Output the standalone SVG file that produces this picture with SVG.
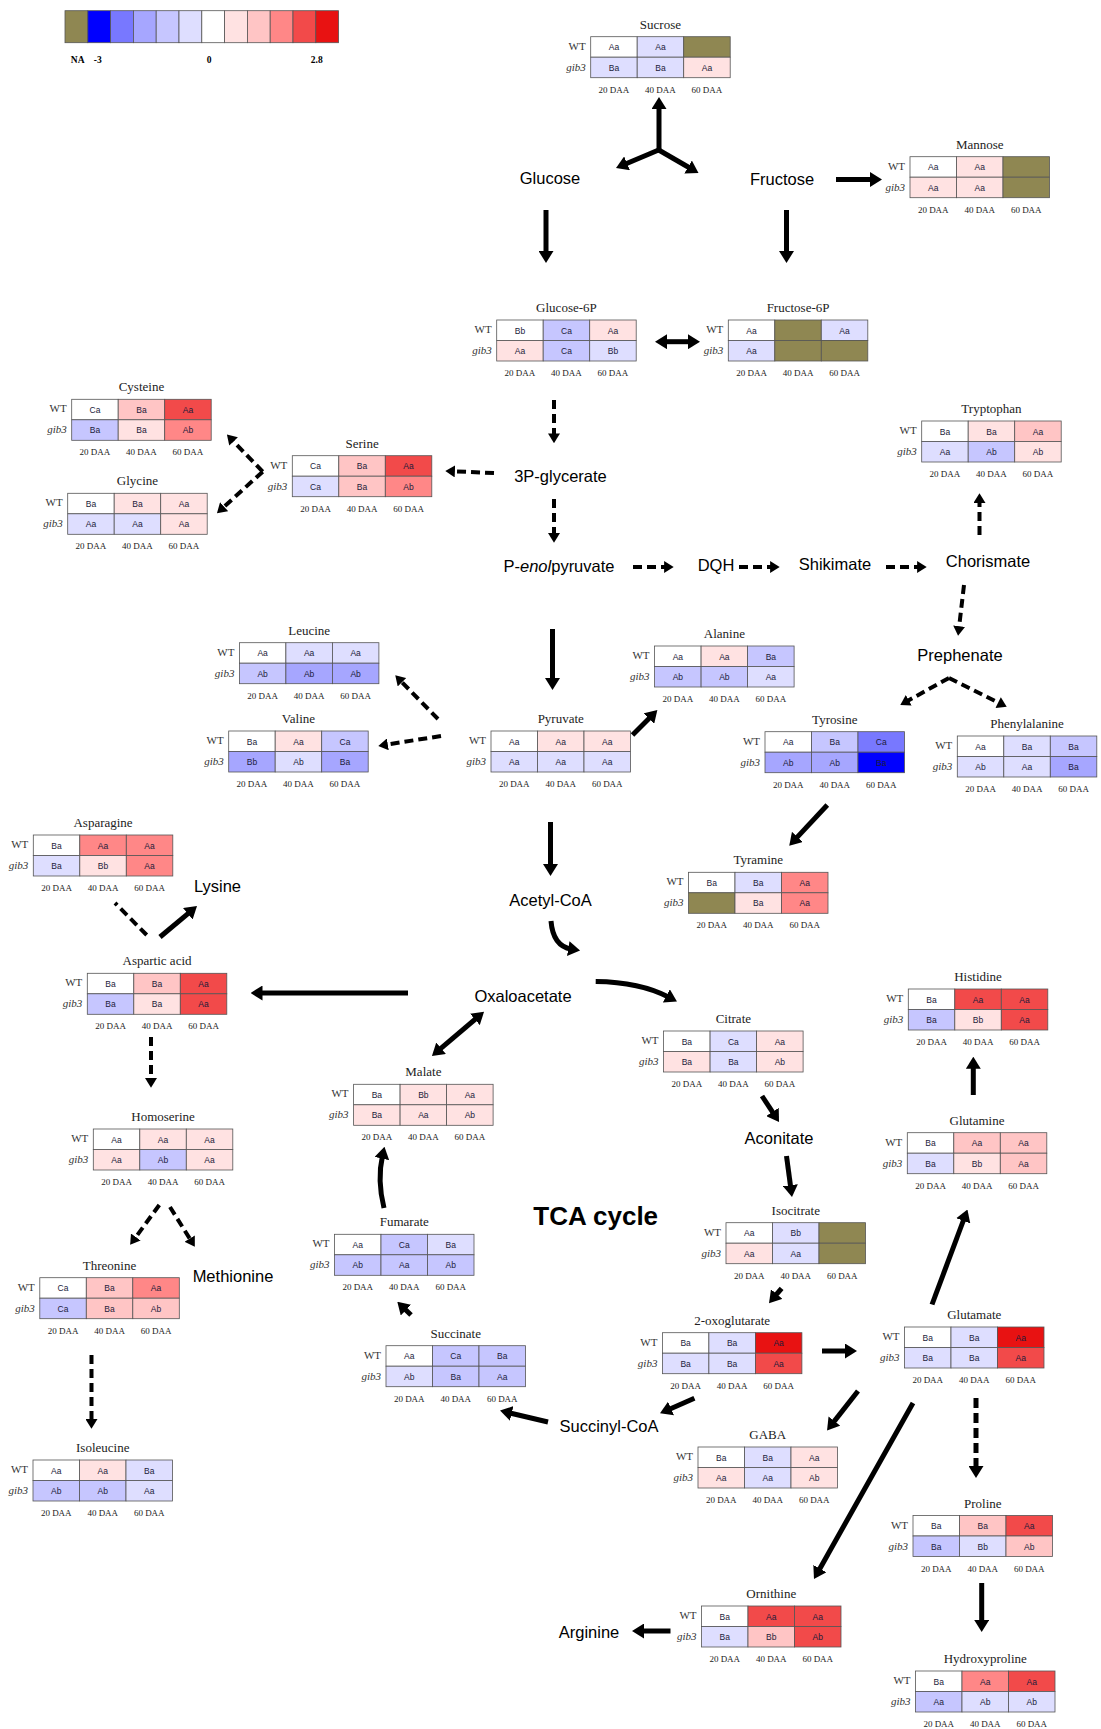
<svg xmlns="http://www.w3.org/2000/svg" width="1101" height="1729" viewBox="0 0 1101 1729">
<style>
.t{font:13px "Liberation Serif",serif;text-anchor:middle;fill:#222}
.rl{font:11px "Liberation Serif",serif;text-anchor:end;fill:#333}
.gi{font-style:italic}
.dl{font:9px "Liberation Serif",serif;text-anchor:middle;fill:#222}
.c{font:8.5px "Liberation Sans",sans-serif;text-anchor:middle;fill:#1c1c3a}
.lab{font:16.5px "Liberation Sans",sans-serif;text-anchor:middle;fill:#000}
.lg{font:bold 9.5px "Liberation Serif",serif;text-anchor:middle;fill:#000}
.k{stroke:#555;stroke-width:0.8}
.w{fill:#ffffff}.b1{fill:#dedeff}.b2{fill:#c6c6ff}.b3{fill:#a6a6ff}.b4{fill:#7878ff}.b5{fill:#0000ff}
.r1{fill:#ffe2e2}.r2{fill:#ffc5c5}.r3{fill:#ff8787}.r4{fill:#f24a4a}.r5{fill:#e81212}.na{fill:#8f8752}
.a{fill:none;stroke:#000;stroke-width:5;marker-end:url(#ah)}
.ad{fill:none;stroke:#000;stroke-width:4;stroke-dasharray:9 5;marker-end:url(#ahs)}
.dd{fill:none;stroke:#000;stroke-width:4;stroke-dasharray:9 5}
</style>
<defs>
<marker id="ah" viewBox="0 0 8 10" refX="2" refY="5" markerWidth="12" markerHeight="15" markerUnits="userSpaceOnUse" orient="auto-start-reverse"><path d="M0,0 L8,5 L0,10 z" fill="#000"/></marker>
<marker id="ahs" viewBox="0 0 8 10" refX="2" refY="5" markerWidth="10" markerHeight="12" markerUnits="userSpaceOnUse" orient="auto-start-reverse"><path d="M0,0 L8,5 L0,10 z" fill="#000"/></marker>
</defs>
<rect width="1101" height="1729" fill="#fff"/>

<g id="legend">
<rect class="k na" x="65" y="10.7" width="22.8" height="32"/>
<rect class="k b5" x="87.8" y="10.7" width="22.8" height="32"/>
<rect class="k b4" x="110.6" y="10.7" width="22.8" height="32"/>
<rect class="k b3" x="133.4" y="10.7" width="22.8" height="32"/>
<rect class="k b2" x="156.2" y="10.7" width="22.8" height="32"/>
<rect class="k b1" x="179" y="10.7" width="22.8" height="32"/>
<rect class="k w" x="201.8" y="10.7" width="22.8" height="32"/>
<rect class="k r1" x="224.6" y="10.7" width="22.8" height="32"/>
<rect class="k r2" x="247.4" y="10.7" width="22.8" height="32"/>
<rect class="k r3" x="270.2" y="10.7" width="22.8" height="32"/>
<rect class="k r4" x="293" y="10.7" width="22.8" height="32"/>
<rect class="k r5" x="315.8" y="10.7" width="22.8" height="32"/>
<text class="lg" x="77.7" y="63">NA</text><text class="lg" x="97.7" y="63">-3</text><text class="lg" x="209" y="63">0</text><text class="lg" x="316.7" y="63">2.8</text>
</g>

<g id="sucrose" transform="translate(590.7,36.7)">
<text class="t" x="69.75" y="-8">Sucrose</text><text class="rl" x="-5" y="13">WT</text><text class="rl gi" x="-5" y="34">gib3</text>
<rect class="k w" x="0" y="0" width="46.5" height="20.5"/><rect class="k b1" x="46.5" y="0" width="46.5" height="20.5"/><rect class="k na" x="93" y="0" width="46.5" height="20.5"/>
<rect class="k b1" x="0" y="20.5" width="46.5" height="20.5"/><rect class="k b1" x="46.5" y="20.5" width="46.5" height="20.5"/><rect class="k r1" x="93" y="20.5" width="46.5" height="20.5"/>
<text class="c" x="23.25" y="13.5">Aa</text><text class="c" x="69.75" y="13.5">Aa</text>
<text class="c" x="23.25" y="34">Ba</text><text class="c" x="69.75" y="34">Ba</text><text class="c" x="116.25" y="34">Aa</text>
<text class="dl" x="23.25" y="56">20 DAA</text><text class="dl" x="69.75" y="56">40 DAA</text><text class="dl" x="116.25" y="56">60 DAA</text>
</g>

<g id="mannose" transform="translate(910,156.7)">
<text class="t" x="69.75" y="-8">Mannose</text><text class="rl" x="-5" y="13">WT</text><text class="rl gi" x="-5" y="34">gib3</text>
<rect class="k w" x="0" y="0" width="46.5" height="20.5"/><rect class="k r1" x="46.5" y="0" width="46.5" height="20.5"/><rect class="k na" x="93" y="0" width="46.5" height="20.5"/>
<rect class="k r1" x="0" y="20.5" width="46.5" height="20.5"/><rect class="k r1" x="46.5" y="20.5" width="46.5" height="20.5"/><rect class="k na" x="93" y="20.5" width="46.5" height="20.5"/>
<text class="c" x="23.25" y="13.5">Aa</text><text class="c" x="69.75" y="13.5">Aa</text>
<text class="c" x="23.25" y="34">Aa</text><text class="c" x="69.75" y="34">Aa</text>
<text class="dl" x="23.25" y="56">20 DAA</text><text class="dl" x="69.75" y="56">40 DAA</text><text class="dl" x="116.25" y="56">60 DAA</text>
</g>

<g id="glucose6p" transform="translate(496.7,320)">
<text class="t" x="69.75" y="-8">Glucose-6P</text><text class="rl" x="-5" y="13">WT</text><text class="rl gi" x="-5" y="34">gib3</text>
<rect class="k w" x="0" y="0" width="46.5" height="20.5"/><rect class="k b2" x="46.5" y="0" width="46.5" height="20.5"/><rect class="k r1" x="93" y="0" width="46.5" height="20.5"/>
<rect class="k r1" x="0" y="20.5" width="46.5" height="20.5"/><rect class="k b2" x="46.5" y="20.5" width="46.5" height="20.5"/><rect class="k b1" x="93" y="20.5" width="46.5" height="20.5"/>
<text class="c" x="23.25" y="13.5">Bb</text><text class="c" x="69.75" y="13.5">Ca</text><text class="c" x="116.25" y="13.5">Aa</text>
<text class="c" x="23.25" y="34">Aa</text><text class="c" x="69.75" y="34">Ca</text><text class="c" x="116.25" y="34">Bb</text>
<text class="dl" x="23.25" y="56">20 DAA</text><text class="dl" x="69.75" y="56">40 DAA</text><text class="dl" x="116.25" y="56">60 DAA</text>
</g>

<g id="fructose6p" transform="translate(728.3,320)">
<text class="t" x="69.75" y="-8">Fructose-6P</text><text class="rl" x="-5" y="13">WT</text><text class="rl gi" x="-5" y="34">gib3</text>
<rect class="k w" x="0" y="0" width="46.5" height="20.5"/><rect class="k na" x="46.5" y="0" width="46.5" height="20.5"/><rect class="k b1" x="93" y="0" width="46.5" height="20.5"/>
<rect class="k b1" x="0" y="20.5" width="46.5" height="20.5"/><rect class="k na" x="46.5" y="20.5" width="46.5" height="20.5"/><rect class="k na" x="93" y="20.5" width="46.5" height="20.5"/>
<text class="c" x="23.25" y="13.5">Aa</text><text class="c" x="116.25" y="13.5">Aa</text>
<text class="c" x="23.25" y="34">Aa</text>
<text class="dl" x="23.25" y="56">20 DAA</text><text class="dl" x="69.75" y="56">40 DAA</text><text class="dl" x="116.25" y="56">60 DAA</text>
</g>

<g id="cysteine" transform="translate(71.7,399.3)">
<text class="t" x="69.75" y="-8">Cysteine</text><text class="rl" x="-5" y="13">WT</text><text class="rl gi" x="-5" y="34">gib3</text>
<rect class="k w" x="0" y="0" width="46.5" height="20.5"/><rect class="k r2" x="46.5" y="0" width="46.5" height="20.5"/><rect class="k r4" x="93" y="0" width="46.5" height="20.5"/>
<rect class="k b2" x="0" y="20.5" width="46.5" height="20.5"/><rect class="k r1" x="46.5" y="20.5" width="46.5" height="20.5"/><rect class="k r3" x="93" y="20.5" width="46.5" height="20.5"/>
<text class="c" x="23.25" y="13.5">Ca</text><text class="c" x="69.75" y="13.5">Ba</text><text class="c" x="116.25" y="13.5">Aa</text>
<text class="c" x="23.25" y="34">Ba</text><text class="c" x="69.75" y="34">Ba</text><text class="c" x="116.25" y="34">Ab</text>
<text class="dl" x="23.25" y="56">20 DAA</text><text class="dl" x="69.75" y="56">40 DAA</text><text class="dl" x="116.25" y="56">60 DAA</text>
</g>

<g id="glycine" transform="translate(67.7,493.3)">
<text class="t" x="69.75" y="-8">Glycine</text><text class="rl" x="-5" y="13">WT</text><text class="rl gi" x="-5" y="34">gib3</text>
<rect class="k w" x="0" y="0" width="46.5" height="20.5"/><rect class="k r1" x="46.5" y="0" width="46.5" height="20.5"/><rect class="k r1" x="93" y="0" width="46.5" height="20.5"/>
<rect class="k b1" x="0" y="20.5" width="46.5" height="20.5"/><rect class="k b1" x="46.5" y="20.5" width="46.5" height="20.5"/><rect class="k r1" x="93" y="20.5" width="46.5" height="20.5"/>
<text class="c" x="23.25" y="13.5">Ba</text><text class="c" x="69.75" y="13.5">Ba</text><text class="c" x="116.25" y="13.5">Aa</text>
<text class="c" x="23.25" y="34">Aa</text><text class="c" x="69.75" y="34">Aa</text><text class="c" x="116.25" y="34">Aa</text>
<text class="dl" x="23.25" y="56">20 DAA</text><text class="dl" x="69.75" y="56">40 DAA</text><text class="dl" x="116.25" y="56">60 DAA</text>
</g>

<g id="serine" transform="translate(292.3,455.7)">
<text class="t" x="69.75" y="-8">Serine</text><text class="rl" x="-5" y="13">WT</text><text class="rl gi" x="-5" y="34">gib3</text>
<rect class="k w" x="0" y="0" width="46.5" height="20.5"/><rect class="k r2" x="46.5" y="0" width="46.5" height="20.5"/><rect class="k r4" x="93" y="0" width="46.5" height="20.5"/>
<rect class="k b1" x="0" y="20.5" width="46.5" height="20.5"/><rect class="k r2" x="46.5" y="20.5" width="46.5" height="20.5"/><rect class="k r3" x="93" y="20.5" width="46.5" height="20.5"/>
<text class="c" x="23.25" y="13.5">Ca</text><text class="c" x="69.75" y="13.5">Ba</text><text class="c" x="116.25" y="13.5">Aa</text>
<text class="c" x="23.25" y="34">Ca</text><text class="c" x="69.75" y="34">Ba</text><text class="c" x="116.25" y="34">Ab</text>
<text class="dl" x="23.25" y="56">20 DAA</text><text class="dl" x="69.75" y="56">40 DAA</text><text class="dl" x="116.25" y="56">60 DAA</text>
</g>

<g id="tryptophan" transform="translate(921.7,421)">
<text class="t" x="69.75" y="-8">Tryptophan</text><text class="rl" x="-5" y="13">WT</text><text class="rl gi" x="-5" y="34">gib3</text>
<rect class="k w" x="0" y="0" width="46.5" height="20.5"/><rect class="k r1" x="46.5" y="0" width="46.5" height="20.5"/><rect class="k r2" x="93" y="0" width="46.5" height="20.5"/>
<rect class="k b1" x="0" y="20.5" width="46.5" height="20.5"/><rect class="k b2" x="46.5" y="20.5" width="46.5" height="20.5"/><rect class="k r1" x="93" y="20.5" width="46.5" height="20.5"/>
<text class="c" x="23.25" y="13.5">Ba</text><text class="c" x="69.75" y="13.5">Ba</text><text class="c" x="116.25" y="13.5">Aa</text>
<text class="c" x="23.25" y="34">Aa</text><text class="c" x="69.75" y="34">Ab</text><text class="c" x="116.25" y="34">Ab</text>
<text class="dl" x="23.25" y="56">20 DAA</text><text class="dl" x="69.75" y="56">40 DAA</text><text class="dl" x="116.25" y="56">60 DAA</text>
</g>

<g id="leucine" transform="translate(239.4,642.7)">
<text class="t" x="69.75" y="-8">Leucine</text><text class="rl" x="-5" y="13">WT</text><text class="rl gi" x="-5" y="34">gib3</text>
<rect class="k w" x="0" y="0" width="46.5" height="20.5"/><rect class="k b1" x="46.5" y="0" width="46.5" height="20.5"/><rect class="k b1" x="93" y="0" width="46.5" height="20.5"/>
<rect class="k b2" x="0" y="20.5" width="46.5" height="20.5"/><rect class="k b3" x="46.5" y="20.5" width="46.5" height="20.5"/><rect class="k b3" x="93" y="20.5" width="46.5" height="20.5"/>
<text class="c" x="23.25" y="13.5">Aa</text><text class="c" x="69.75" y="13.5">Aa</text><text class="c" x="116.25" y="13.5">Aa</text>
<text class="c" x="23.25" y="34">Ab</text><text class="c" x="69.75" y="34">Ab</text><text class="c" x="116.25" y="34">Ab</text>
<text class="dl" x="23.25" y="56">20 DAA</text><text class="dl" x="69.75" y="56">40 DAA</text><text class="dl" x="116.25" y="56">60 DAA</text>
</g>

<g id="valine" transform="translate(228.7,731)">
<text class="t" x="69.75" y="-8">Valine</text><text class="rl" x="-5" y="13">WT</text><text class="rl gi" x="-5" y="34">gib3</text>
<rect class="k w" x="0" y="0" width="46.5" height="20.5"/><rect class="k r1" x="46.5" y="0" width="46.5" height="20.5"/><rect class="k b2" x="93" y="0" width="46.5" height="20.5"/>
<rect class="k b3" x="0" y="20.5" width="46.5" height="20.5"/><rect class="k b1" x="46.5" y="20.5" width="46.5" height="20.5"/><rect class="k b3" x="93" y="20.5" width="46.5" height="20.5"/>
<text class="c" x="23.25" y="13.5">Ba</text><text class="c" x="69.75" y="13.5">Aa</text><text class="c" x="116.25" y="13.5">Ca</text>
<text class="c" x="23.25" y="34">Bb</text><text class="c" x="69.75" y="34">Ab</text><text class="c" x="116.25" y="34">Ba</text>
<text class="dl" x="23.25" y="56">20 DAA</text><text class="dl" x="69.75" y="56">40 DAA</text><text class="dl" x="116.25" y="56">60 DAA</text>
</g>

<g id="pyruvate" transform="translate(491,731)">
<text class="t" x="69.75" y="-8">Pyruvate</text><text class="rl" x="-5" y="13">WT</text><text class="rl gi" x="-5" y="34">gib3</text>
<rect class="k w" x="0" y="0" width="46.5" height="20.5"/><rect class="k r1" x="46.5" y="0" width="46.5" height="20.5"/><rect class="k r1" x="93" y="0" width="46.5" height="20.5"/>
<rect class="k b1" x="0" y="20.5" width="46.5" height="20.5"/><rect class="k b1" x="46.5" y="20.5" width="46.5" height="20.5"/><rect class="k b1" x="93" y="20.5" width="46.5" height="20.5"/>
<text class="c" x="23.25" y="13.5">Aa</text><text class="c" x="69.75" y="13.5">Aa</text><text class="c" x="116.25" y="13.5">Aa</text>
<text class="c" x="23.25" y="34">Aa</text><text class="c" x="69.75" y="34">Aa</text><text class="c" x="116.25" y="34">Aa</text>
<text class="dl" x="23.25" y="56">20 DAA</text><text class="dl" x="69.75" y="56">40 DAA</text><text class="dl" x="116.25" y="56">60 DAA</text>
</g>

<g id="alanine" transform="translate(654.6,646)">
<text class="t" x="69.75" y="-8">Alanine</text><text class="rl" x="-5" y="13">WT</text><text class="rl gi" x="-5" y="34">gib3</text>
<rect class="k w" x="0" y="0" width="46.5" height="20.5"/><rect class="k r1" x="46.5" y="0" width="46.5" height="20.5"/><rect class="k b2" x="93" y="0" width="46.5" height="20.5"/>
<rect class="k b2" x="0" y="20.5" width="46.5" height="20.5"/><rect class="k b2" x="46.5" y="20.5" width="46.5" height="20.5"/><rect class="k b1" x="93" y="20.5" width="46.5" height="20.5"/>
<text class="c" x="23.25" y="13.5">Aa</text><text class="c" x="69.75" y="13.5">Aa</text><text class="c" x="116.25" y="13.5">Ba</text>
<text class="c" x="23.25" y="34">Ab</text><text class="c" x="69.75" y="34">Ab</text><text class="c" x="116.25" y="34">Aa</text>
<text class="dl" x="23.25" y="56">20 DAA</text><text class="dl" x="69.75" y="56">40 DAA</text><text class="dl" x="116.25" y="56">60 DAA</text>
</g>

<g id="tyrosine" transform="translate(765,731.7)">
<text class="t" x="69.75" y="-8">Tyrosine</text><text class="rl" x="-5" y="13">WT</text><text class="rl gi" x="-5" y="34">gib3</text>
<rect class="k w" x="0" y="0" width="46.5" height="20.5"/><rect class="k b2" x="46.5" y="0" width="46.5" height="20.5"/><rect class="k b4" x="93" y="0" width="46.5" height="20.5"/>
<rect class="k b3" x="0" y="20.5" width="46.5" height="20.5"/><rect class="k b3" x="46.5" y="20.5" width="46.5" height="20.5"/><rect class="k b5" x="93" y="20.5" width="46.5" height="20.5"/>
<text class="c" x="23.25" y="13.5">Aa</text><text class="c" x="69.75" y="13.5">Ba</text><text class="c" x="116.25" y="13.5">Ca</text>
<text class="c" x="23.25" y="34">Ab</text><text class="c" x="69.75" y="34">Ab</text><text class="c" x="116.25" y="34">Ba</text>
<text class="dl" x="23.25" y="56">20 DAA</text><text class="dl" x="69.75" y="56">40 DAA</text><text class="dl" x="116.25" y="56">60 DAA</text>
</g>

<g id="phenylalanine" transform="translate(957.3,736)">
<text class="t" x="69.75" y="-8">Phenylalanine</text><text class="rl" x="-5" y="13">WT</text><text class="rl gi" x="-5" y="34">gib3</text>
<rect class="k w" x="0" y="0" width="46.5" height="20.5"/><rect class="k b1" x="46.5" y="0" width="46.5" height="20.5"/><rect class="k b2" x="93" y="0" width="46.5" height="20.5"/>
<rect class="k b1" x="0" y="20.5" width="46.5" height="20.5"/><rect class="k b1" x="46.5" y="20.5" width="46.5" height="20.5"/><rect class="k b3" x="93" y="20.5" width="46.5" height="20.5"/>
<text class="c" x="23.25" y="13.5">Aa</text><text class="c" x="69.75" y="13.5">Ba</text><text class="c" x="116.25" y="13.5">Ba</text>
<text class="c" x="23.25" y="34">Ab</text><text class="c" x="69.75" y="34">Aa</text><text class="c" x="116.25" y="34">Ba</text>
<text class="dl" x="23.25" y="56">20 DAA</text><text class="dl" x="69.75" y="56">40 DAA</text><text class="dl" x="116.25" y="56">60 DAA</text>
</g>

<g id="tyramine" transform="translate(688.5,872.3)">
<text class="t" x="69.75" y="-8">Tyramine</text><text class="rl" x="-5" y="13">WT</text><text class="rl gi" x="-5" y="34">gib3</text>
<rect class="k w" x="0" y="0" width="46.5" height="20.5"/><rect class="k b1" x="46.5" y="0" width="46.5" height="20.5"/><rect class="k r3" x="93" y="0" width="46.5" height="20.5"/>
<rect class="k na" x="0" y="20.5" width="46.5" height="20.5"/><rect class="k r1" x="46.5" y="20.5" width="46.5" height="20.5"/><rect class="k r3" x="93" y="20.5" width="46.5" height="20.5"/>
<text class="c" x="23.25" y="13.5">Ba</text><text class="c" x="69.75" y="13.5">Ba</text><text class="c" x="116.25" y="13.5">Aa</text>
<text class="c" x="69.75" y="34">Ba</text><text class="c" x="116.25" y="34">Aa</text>
<text class="dl" x="23.25" y="56">20 DAA</text><text class="dl" x="69.75" y="56">40 DAA</text><text class="dl" x="116.25" y="56">60 DAA</text>
</g>

<g id="asparagine" transform="translate(33.3,835)">
<text class="t" x="69.75" y="-8">Asparagine</text><text class="rl" x="-5" y="13">WT</text><text class="rl gi" x="-5" y="34">gib3</text>
<rect class="k w" x="0" y="0" width="46.5" height="20.5"/><rect class="k r3" x="46.5" y="0" width="46.5" height="20.5"/><rect class="k r3" x="93" y="0" width="46.5" height="20.5"/>
<rect class="k b1" x="0" y="20.5" width="46.5" height="20.5"/><rect class="k r1" x="46.5" y="20.5" width="46.5" height="20.5"/><rect class="k r3" x="93" y="20.5" width="46.5" height="20.5"/>
<text class="c" x="23.25" y="13.5">Ba</text><text class="c" x="69.75" y="13.5">Aa</text><text class="c" x="116.25" y="13.5">Aa</text>
<text class="c" x="23.25" y="34">Ba</text><text class="c" x="69.75" y="34">Bb</text><text class="c" x="116.25" y="34">Aa</text>
<text class="dl" x="23.25" y="56">20 DAA</text><text class="dl" x="69.75" y="56">40 DAA</text><text class="dl" x="116.25" y="56">60 DAA</text>
</g>

<g id="aspartic-acid" transform="translate(87.3,973.3)">
<text class="t" x="69.75" y="-8">Aspartic acid</text><text class="rl" x="-5" y="13">WT</text><text class="rl gi" x="-5" y="34">gib3</text>
<rect class="k w" x="0" y="0" width="46.5" height="20.5"/><rect class="k r2" x="46.5" y="0" width="46.5" height="20.5"/><rect class="k r4" x="93" y="0" width="46.5" height="20.5"/>
<rect class="k b2" x="0" y="20.5" width="46.5" height="20.5"/><rect class="k r1" x="46.5" y="20.5" width="46.5" height="20.5"/><rect class="k r4" x="93" y="20.5" width="46.5" height="20.5"/>
<text class="c" x="23.25" y="13.5">Ba</text><text class="c" x="69.75" y="13.5">Ba</text><text class="c" x="116.25" y="13.5">Aa</text>
<text class="c" x="23.25" y="34">Ba</text><text class="c" x="69.75" y="34">Ba</text><text class="c" x="116.25" y="34">Aa</text>
<text class="dl" x="23.25" y="56">20 DAA</text><text class="dl" x="69.75" y="56">40 DAA</text><text class="dl" x="116.25" y="56">60 DAA</text>
</g>

<g id="citrate" transform="translate(663.6,1031)">
<text class="t" x="69.75" y="-8">Citrate</text><text class="rl" x="-5" y="13">WT</text><text class="rl gi" x="-5" y="34">gib3</text>
<rect class="k w" x="0" y="0" width="46.5" height="20.5"/><rect class="k b1" x="46.5" y="0" width="46.5" height="20.5"/><rect class="k r1" x="93" y="0" width="46.5" height="20.5"/>
<rect class="k r1" x="0" y="20.5" width="46.5" height="20.5"/><rect class="k b1" x="46.5" y="20.5" width="46.5" height="20.5"/><rect class="k r1" x="93" y="20.5" width="46.5" height="20.5"/>
<text class="c" x="23.25" y="13.5">Ba</text><text class="c" x="69.75" y="13.5">Ca</text><text class="c" x="116.25" y="13.5">Aa</text>
<text class="c" x="23.25" y="34">Ba</text><text class="c" x="69.75" y="34">Ba</text><text class="c" x="116.25" y="34">Ab</text>
<text class="dl" x="23.25" y="56">20 DAA</text><text class="dl" x="69.75" y="56">40 DAA</text><text class="dl" x="116.25" y="56">60 DAA</text>
</g>

<g id="malate" transform="translate(353.6,1084.3)">
<text class="t" x="69.75" y="-8">Malate</text><text class="rl" x="-5" y="13">WT</text><text class="rl gi" x="-5" y="34">gib3</text>
<rect class="k w" x="0" y="0" width="46.5" height="20.5"/><rect class="k r1" x="46.5" y="0" width="46.5" height="20.5"/><rect class="k r1" x="93" y="0" width="46.5" height="20.5"/>
<rect class="k r1" x="0" y="20.5" width="46.5" height="20.5"/><rect class="k r1" x="46.5" y="20.5" width="46.5" height="20.5"/><rect class="k r1" x="93" y="20.5" width="46.5" height="20.5"/>
<text class="c" x="23.25" y="13.5">Ba</text><text class="c" x="69.75" y="13.5">Bb</text><text class="c" x="116.25" y="13.5">Aa</text>
<text class="c" x="23.25" y="34">Ba</text><text class="c" x="69.75" y="34">Aa</text><text class="c" x="116.25" y="34">Ab</text>
<text class="dl" x="23.25" y="56">20 DAA</text><text class="dl" x="69.75" y="56">40 DAA</text><text class="dl" x="116.25" y="56">60 DAA</text>
</g>

<g id="homoserine" transform="translate(93.3,1129)">
<text class="t" x="69.75" y="-8">Homoserine</text><text class="rl" x="-5" y="13">WT</text><text class="rl gi" x="-5" y="34">gib3</text>
<rect class="k w" x="0" y="0" width="46.5" height="20.5"/><rect class="k r1" x="46.5" y="0" width="46.5" height="20.5"/><rect class="k r1" x="93" y="0" width="46.5" height="20.5"/>
<rect class="k r1" x="0" y="20.5" width="46.5" height="20.5"/><rect class="k b2" x="46.5" y="20.5" width="46.5" height="20.5"/><rect class="k r1" x="93" y="20.5" width="46.5" height="20.5"/>
<text class="c" x="23.25" y="13.5">Aa</text><text class="c" x="69.75" y="13.5">Aa</text><text class="c" x="116.25" y="13.5">Aa</text>
<text class="c" x="23.25" y="34">Aa</text><text class="c" x="69.75" y="34">Ab</text><text class="c" x="116.25" y="34">Aa</text>
<text class="dl" x="23.25" y="56">20 DAA</text><text class="dl" x="69.75" y="56">40 DAA</text><text class="dl" x="116.25" y="56">60 DAA</text>
</g>

<g id="threonine" transform="translate(39.8,1277.7)">
<text class="t" x="69.75" y="-8">Threonine</text><text class="rl" x="-5" y="13">WT</text><text class="rl gi" x="-5" y="34">gib3</text>
<rect class="k w" x="0" y="0" width="46.5" height="20.5"/><rect class="k r2" x="46.5" y="0" width="46.5" height="20.5"/><rect class="k r3" x="93" y="0" width="46.5" height="20.5"/>
<rect class="k b2" x="0" y="20.5" width="46.5" height="20.5"/><rect class="k r2" x="46.5" y="20.5" width="46.5" height="20.5"/><rect class="k r2" x="93" y="20.5" width="46.5" height="20.5"/>
<text class="c" x="23.25" y="13.5">Ca</text><text class="c" x="69.75" y="13.5">Ba</text><text class="c" x="116.25" y="13.5">Aa</text>
<text class="c" x="23.25" y="34">Ca</text><text class="c" x="69.75" y="34">Ba</text><text class="c" x="116.25" y="34">Ab</text>
<text class="dl" x="23.25" y="56">20 DAA</text><text class="dl" x="69.75" y="56">40 DAA</text><text class="dl" x="116.25" y="56">60 DAA</text>
</g>

<g id="histidine" transform="translate(908.3,989)">
<text class="t" x="69.75" y="-8">Histidine</text><text class="rl" x="-5" y="13">WT</text><text class="rl gi" x="-5" y="34">gib3</text>
<rect class="k w" x="0" y="0" width="46.5" height="20.5"/><rect class="k r4" x="46.5" y="0" width="46.5" height="20.5"/><rect class="k r4" x="93" y="0" width="46.5" height="20.5"/>
<rect class="k b2" x="0" y="20.5" width="46.5" height="20.5"/><rect class="k r1" x="46.5" y="20.5" width="46.5" height="20.5"/><rect class="k r4" x="93" y="20.5" width="46.5" height="20.5"/>
<text class="c" x="23.25" y="13.5">Ba</text><text class="c" x="69.75" y="13.5">Aa</text><text class="c" x="116.25" y="13.5">Aa</text>
<text class="c" x="23.25" y="34">Ba</text><text class="c" x="69.75" y="34">Bb</text><text class="c" x="116.25" y="34">Aa</text>
<text class="dl" x="23.25" y="56">20 DAA</text><text class="dl" x="69.75" y="56">40 DAA</text><text class="dl" x="116.25" y="56">60 DAA</text>
</g>

<g id="glutamine" transform="translate(907.3,1132.7)">
<text class="t" x="69.75" y="-8">Glutamine</text><text class="rl" x="-5" y="13">WT</text><text class="rl gi" x="-5" y="34">gib3</text>
<rect class="k w" x="0" y="0" width="46.5" height="20.5"/><rect class="k r2" x="46.5" y="0" width="46.5" height="20.5"/><rect class="k r2" x="93" y="0" width="46.5" height="20.5"/>
<rect class="k b1" x="0" y="20.5" width="46.5" height="20.5"/><rect class="k r1" x="46.5" y="20.5" width="46.5" height="20.5"/><rect class="k r2" x="93" y="20.5" width="46.5" height="20.5"/>
<text class="c" x="23.25" y="13.5">Ba</text><text class="c" x="69.75" y="13.5">Aa</text><text class="c" x="116.25" y="13.5">Aa</text>
<text class="c" x="23.25" y="34">Ba</text><text class="c" x="69.75" y="34">Bb</text><text class="c" x="116.25" y="34">Aa</text>
<text class="dl" x="23.25" y="56">20 DAA</text><text class="dl" x="69.75" y="56">40 DAA</text><text class="dl" x="116.25" y="56">60 DAA</text>
</g>

<g id="fumarate" transform="translate(334.5,1234.3)">
<text class="t" x="69.75" y="-8">Fumarate</text><text class="rl" x="-5" y="13">WT</text><text class="rl gi" x="-5" y="34">gib3</text>
<rect class="k w" x="0" y="0" width="46.5" height="20.5"/><rect class="k b2" x="46.5" y="0" width="46.5" height="20.5"/><rect class="k b1" x="93" y="0" width="46.5" height="20.5"/>
<rect class="k b2" x="0" y="20.5" width="46.5" height="20.5"/><rect class="k b2" x="46.5" y="20.5" width="46.5" height="20.5"/><rect class="k b2" x="93" y="20.5" width="46.5" height="20.5"/>
<text class="c" x="23.25" y="13.5">Aa</text><text class="c" x="69.75" y="13.5">Ca</text><text class="c" x="116.25" y="13.5">Ba</text>
<text class="c" x="23.25" y="34">Ab</text><text class="c" x="69.75" y="34">Aa</text><text class="c" x="116.25" y="34">Ab</text>
<text class="dl" x="23.25" y="56">20 DAA</text><text class="dl" x="69.75" y="56">40 DAA</text><text class="dl" x="116.25" y="56">60 DAA</text>
</g>

<g id="isocitrate" transform="translate(726,1222.7)">
<text class="t" x="69.75" y="-8">Isocitrate</text><text class="rl" x="-5" y="13">WT</text><text class="rl gi" x="-5" y="34">gib3</text>
<rect class="k w" x="0" y="0" width="46.5" height="20.5"/><rect class="k b1" x="46.5" y="0" width="46.5" height="20.5"/><rect class="k na" x="93" y="0" width="46.5" height="20.5"/>
<rect class="k r1" x="0" y="20.5" width="46.5" height="20.5"/><rect class="k b1" x="46.5" y="20.5" width="46.5" height="20.5"/><rect class="k na" x="93" y="20.5" width="46.5" height="20.5"/>
<text class="c" x="23.25" y="13.5">Aa</text><text class="c" x="69.75" y="13.5">Bb</text>
<text class="c" x="23.25" y="34">Aa</text><text class="c" x="69.75" y="34">Aa</text>
<text class="dl" x="23.25" y="56">20 DAA</text><text class="dl" x="69.75" y="56">40 DAA</text><text class="dl" x="116.25" y="56">60 DAA</text>
</g>

<g id="succinate" transform="translate(386,1345.7)">
<text class="t" x="69.75" y="-8">Succinate</text><text class="rl" x="-5" y="13">WT</text><text class="rl gi" x="-5" y="34">gib3</text>
<rect class="k w" x="0" y="0" width="46.5" height="20.5"/><rect class="k b2" x="46.5" y="0" width="46.5" height="20.5"/><rect class="k b2" x="93" y="0" width="46.5" height="20.5"/>
<rect class="k b1" x="0" y="20.5" width="46.5" height="20.5"/><rect class="k b2" x="46.5" y="20.5" width="46.5" height="20.5"/><rect class="k b2" x="93" y="20.5" width="46.5" height="20.5"/>
<text class="c" x="23.25" y="13.5">Aa</text><text class="c" x="69.75" y="13.5">Ca</text><text class="c" x="116.25" y="13.5">Ba</text>
<text class="c" x="23.25" y="34">Ab</text><text class="c" x="69.75" y="34">Ba</text><text class="c" x="116.25" y="34">Aa</text>
<text class="dl" x="23.25" y="56">20 DAA</text><text class="dl" x="69.75" y="56">40 DAA</text><text class="dl" x="116.25" y="56">60 DAA</text>
</g>

<g id="oxoglutarate" transform="translate(662.4,1332.7)">
<text class="t" x="69.75" y="-8">2-oxoglutarate</text><text class="rl" x="-5" y="13">WT</text><text class="rl gi" x="-5" y="34">gib3</text>
<rect class="k w" x="0" y="0" width="46.5" height="20.5"/><rect class="k b1" x="46.5" y="0" width="46.5" height="20.5"/><rect class="k r5" x="93" y="0" width="46.5" height="20.5"/>
<rect class="k b1" x="0" y="20.5" width="46.5" height="20.5"/><rect class="k b1" x="46.5" y="20.5" width="46.5" height="20.5"/><rect class="k r4" x="93" y="20.5" width="46.5" height="20.5"/>
<text class="c" x="23.25" y="13.5">Ba</text><text class="c" x="69.75" y="13.5">Ba</text><text class="c" x="116.25" y="13.5">Aa</text>
<text class="c" x="23.25" y="34">Ba</text><text class="c" x="69.75" y="34">Ba</text><text class="c" x="116.25" y="34">Aa</text>
<text class="dl" x="23.25" y="56">20 DAA</text><text class="dl" x="69.75" y="56">40 DAA</text><text class="dl" x="116.25" y="56">60 DAA</text>
</g>

<g id="glutamate" transform="translate(904.5,1327)">
<text class="t" x="69.75" y="-8">Glutamate</text><text class="rl" x="-5" y="13">WT</text><text class="rl gi" x="-5" y="34">gib3</text>
<rect class="k w" x="0" y="0" width="46.5" height="20.5"/><rect class="k b1" x="46.5" y="0" width="46.5" height="20.5"/><rect class="k r5" x="93" y="0" width="46.5" height="20.5"/>
<rect class="k b1" x="0" y="20.5" width="46.5" height="20.5"/><rect class="k b1" x="46.5" y="20.5" width="46.5" height="20.5"/><rect class="k r4" x="93" y="20.5" width="46.5" height="20.5"/>
<text class="c" x="23.25" y="13.5">Ba</text><text class="c" x="69.75" y="13.5">Ba</text><text class="c" x="116.25" y="13.5">Aa</text>
<text class="c" x="23.25" y="34">Ba</text><text class="c" x="69.75" y="34">Ba</text><text class="c" x="116.25" y="34">Aa</text>
<text class="dl" x="23.25" y="56">20 DAA</text><text class="dl" x="69.75" y="56">40 DAA</text><text class="dl" x="116.25" y="56">60 DAA</text>
</g>

<g id="gaba" transform="translate(698,1447)">
<text class="t" x="69.75" y="-8">GABA</text><text class="rl" x="-5" y="13">WT</text><text class="rl gi" x="-5" y="34">gib3</text>
<rect class="k w" x="0" y="0" width="46.5" height="20.5"/><rect class="k b1" x="46.5" y="0" width="46.5" height="20.5"/><rect class="k r1" x="93" y="0" width="46.5" height="20.5"/>
<rect class="k r1" x="0" y="20.5" width="46.5" height="20.5"/><rect class="k b1" x="46.5" y="20.5" width="46.5" height="20.5"/><rect class="k r1" x="93" y="20.5" width="46.5" height="20.5"/>
<text class="c" x="23.25" y="13.5">Ba</text><text class="c" x="69.75" y="13.5">Ba</text><text class="c" x="116.25" y="13.5">Aa</text>
<text class="c" x="23.25" y="34">Aa</text><text class="c" x="69.75" y="34">Aa</text><text class="c" x="116.25" y="34">Ab</text>
<text class="dl" x="23.25" y="56">20 DAA</text><text class="dl" x="69.75" y="56">40 DAA</text><text class="dl" x="116.25" y="56">60 DAA</text>
</g>

<g id="proline" transform="translate(913,1515.5)">
<text class="t" x="69.75" y="-8">Proline</text><text class="rl" x="-5" y="13">WT</text><text class="rl gi" x="-5" y="34">gib3</text>
<rect class="k w" x="0" y="0" width="46.5" height="20.5"/><rect class="k r2" x="46.5" y="0" width="46.5" height="20.5"/><rect class="k r4" x="93" y="0" width="46.5" height="20.5"/>
<rect class="k b2" x="0" y="20.5" width="46.5" height="20.5"/><rect class="k b1" x="46.5" y="20.5" width="46.5" height="20.5"/><rect class="k r2" x="93" y="20.5" width="46.5" height="20.5"/>
<text class="c" x="23.25" y="13.5">Ba</text><text class="c" x="69.75" y="13.5">Ba</text><text class="c" x="116.25" y="13.5">Aa</text>
<text class="c" x="23.25" y="34">Ba</text><text class="c" x="69.75" y="34">Bb</text><text class="c" x="116.25" y="34">Ab</text>
<text class="dl" x="23.25" y="56">20 DAA</text><text class="dl" x="69.75" y="56">40 DAA</text><text class="dl" x="116.25" y="56">60 DAA</text>
</g>

<g id="ornithine" transform="translate(701.5,1606)">
<text class="t" x="69.75" y="-8">Ornithine</text><text class="rl" x="-5" y="13">WT</text><text class="rl gi" x="-5" y="34">gib3</text>
<rect class="k w" x="0" y="0" width="46.5" height="20.5"/><rect class="k r4" x="46.5" y="0" width="46.5" height="20.5"/><rect class="k r4" x="93" y="0" width="46.5" height="20.5"/>
<rect class="k b1" x="0" y="20.5" width="46.5" height="20.5"/><rect class="k r2" x="46.5" y="20.5" width="46.5" height="20.5"/><rect class="k r4" x="93" y="20.5" width="46.5" height="20.5"/>
<text class="c" x="23.25" y="13.5">Ba</text><text class="c" x="69.75" y="13.5">Aa</text><text class="c" x="116.25" y="13.5">Aa</text>
<text class="c" x="23.25" y="34">Ba</text><text class="c" x="69.75" y="34">Bb</text><text class="c" x="116.25" y="34">Ab</text>
<text class="dl" x="23.25" y="56">20 DAA</text><text class="dl" x="69.75" y="56">40 DAA</text><text class="dl" x="116.25" y="56">60 DAA</text>
</g>

<g id="hydroxyproline" transform="translate(915.5,1671)">
<text class="t" x="69.75" y="-8">Hydroxyproline</text><text class="rl" x="-5" y="13">WT</text><text class="rl gi" x="-5" y="34">gib3</text>
<rect class="k w" x="0" y="0" width="46.5" height="20.5"/><rect class="k r3" x="46.5" y="0" width="46.5" height="20.5"/><rect class="k r4" x="93" y="0" width="46.5" height="20.5"/>
<rect class="k b2" x="0" y="20.5" width="46.5" height="20.5"/><rect class="k b1" x="46.5" y="20.5" width="46.5" height="20.5"/><rect class="k b1" x="93" y="20.5" width="46.5" height="20.5"/>
<text class="c" x="23.25" y="13.5">Ba</text><text class="c" x="69.75" y="13.5">Aa</text><text class="c" x="116.25" y="13.5">Aa</text>
<text class="c" x="23.25" y="34">Aa</text><text class="c" x="69.75" y="34">Ab</text><text class="c" x="116.25" y="34">Ab</text>
<text class="dl" x="23.25" y="56">20 DAA</text><text class="dl" x="69.75" y="56">40 DAA</text><text class="dl" x="116.25" y="56">60 DAA</text>
</g>

<g id="isoleucine" transform="translate(33,1460)">
<text class="t" x="69.75" y="-8">Isoleucine</text><text class="rl" x="-5" y="13">WT</text><text class="rl gi" x="-5" y="34">gib3</text>
<rect class="k w" x="0" y="0" width="46.5" height="20.5"/><rect class="k r1" x="46.5" y="0" width="46.5" height="20.5"/><rect class="k b1" x="93" y="0" width="46.5" height="20.5"/>
<rect class="k b2" x="0" y="20.5" width="46.5" height="20.5"/><rect class="k b2" x="46.5" y="20.5" width="46.5" height="20.5"/><rect class="k b1" x="93" y="20.5" width="46.5" height="20.5"/>
<text class="c" x="23.25" y="13.5">Aa</text><text class="c" x="69.75" y="13.5">Aa</text><text class="c" x="116.25" y="13.5">Ba</text>
<text class="c" x="23.25" y="34">Ab</text><text class="c" x="69.75" y="34">Ab</text><text class="c" x="116.25" y="34">Aa</text>
<text class="dl" x="23.25" y="56">20 DAA</text><text class="dl" x="69.75" y="56">40 DAA</text><text class="dl" x="116.25" y="56">60 DAA</text>
</g>

<g id="labels">
<text id="glucose" class="lab" x="550" y="184">Glucose</text>
<text id="fructose" class="lab" x="782" y="185">Fructose</text>
<text id="3p-glycerate" class="lab" x="560.5" y="482">3P-glycerate</text>
<text id="p-enolpyruvate" class="lab" x="559" y="572">P-<tspan font-style="italic">enol</tspan>pyruvate</text>
<text id="dqh" class="lab" x="716" y="571">DQH</text>
<text id="shikimate" class="lab" x="835" y="570">Shikimate</text>
<text id="chorismate" class="lab" x="988" y="567">Chorismate</text>
<text id="prephenate" class="lab" x="960" y="661">Prephenate</text>
<text id="acetyl-coa" class="lab" x="550.5" y="906">Acetyl-CoA</text>
<text id="lysine" class="lab" x="217.5" y="892">Lysine</text>
<text id="oxaloacetate" class="lab" x="523" y="1002">Oxaloacetate</text>
<text id="aconitate" class="lab" x="779" y="1144">Aconitate</text>
<text id="tca" x="595.7" y="1225" style="font:bold 26px 'Liberation Sans',sans-serif;text-anchor:middle">TCA cycle</text>
<text id="methionine" class="lab" x="233" y="1282">Methionine</text>
<text id="succinyl-coa" class="lab" x="609" y="1432">Succinyl-CoA</text>
<text id="arginine" class="lab" x="589" y="1638">Arginine</text>
</g>

<g id="connectors">
<path class="a" d="M659,152 V106"/>
<path class="a" d="M661,149 L624.3,164.5"/>
<path class="a" d="M657,149 L690.7,168.5"/>
<path class="a" d="M836,179.5 H873"/>
<path class="a" d="M546,210 V254"/>
<path class="a" d="M786.5,210 V254"/>
<path class="a" d="M664,341.7 H691" style="marker-start:url(#ah)"/>
<path class="ad" d="M554,400 V436"/>
<path class="ad" d="M494,473 L452.5,471.3"/>
<path class="ad" d="M262.7,471.7 L231.9,439.7"/>
<path class="ad" d="M262.7,471.7 L222.3,508.3"/>
<path class="ad" d="M554,499 V535.5"/>
<path class="ad" d="M633,567 H666.5"/>
<path class="ad" d="M739,567 H772.5"/>
<path class="ad" d="M886,567 H919.5"/>
<path class="ad" d="M979.5,535 V500.5"/>
<path class="ad" d="M964,585 L958.9,628.6"/>
<path class="ad" d="M949,678 L906.6,701.4"/>
<path class="ad" d="M949,678 L1000.3,703.6"/>
<path class="a" d="M552.5,629 V681"/>
<path class="a" d="M632.5,735 L651,716.4"/>
<path class="ad" d="M438,719 L400.3,680.5"/>
<path class="ad" d="M441,736 L385.4,744.8"/>
<path class="a" d="M550.5,822 V867"/>
<path class="a" d="M827.3,805 L795.4,839.1"/>
<path class="a" d="M551,921 Q553,946 571.2,949.1"/>
<path class="a" d="M595.7,981.5 Q640,982 669,997.3"/>
<path class="a" d="M408,993 H259.5"/>
<path class="dd" d="M146.7,935 L115,903"/>
<path class="a" d="M160,937 L190.1,911.8"/>
<path class="ad" d="M151,1037 V1080.5"/>
<path class="ad" d="M159.3,1205 L134.4,1239"/>
<path class="ad" d="M170,1207 L191,1240.6"/>
<path class="ad" d="M91.5,1355 V1421.5"/>
<path class="a" d="M438.8,1050.2 L477.2,1017.5" style="marker-start:url(#ah)"/>
<path class="a" d="M384,1208 Q377,1180 382.5,1155.6"/>
<path class="a" d="M411,1315 L403.8,1308"/>
<path class="a" d="M548,1422 L508.8,1412.7"/>
<path class="a" d="M694.4,1398.3 L668.3,1409.7"/>
<path class="a" d="M781.6,1288.3 L774.8,1296.4"/>
<path class="a" d="M762,1096 L774.1,1114.4"/>
<path class="a" d="M786.5,1156 L790.8,1188.1"/>
<path class="a" d="M822,1351 H848"/>
<path class="a" d="M932,1304.5 L964.3,1218"/>
<path class="a" d="M973.3,1095 V1065.7"/>
<path class="a" d="M858,1391 L832.6,1423.4"/>
<path class="a" d="M976,1398 V1469" style="stroke-dasharray:10 5"/>
<path class="a" d="M981.7,1583 V1623"/>
<path class="a" d="M913,1403 L818.4,1571.2"/>
<path class="a" d="M670.5,1631 H641"/>
</g>
</svg>
